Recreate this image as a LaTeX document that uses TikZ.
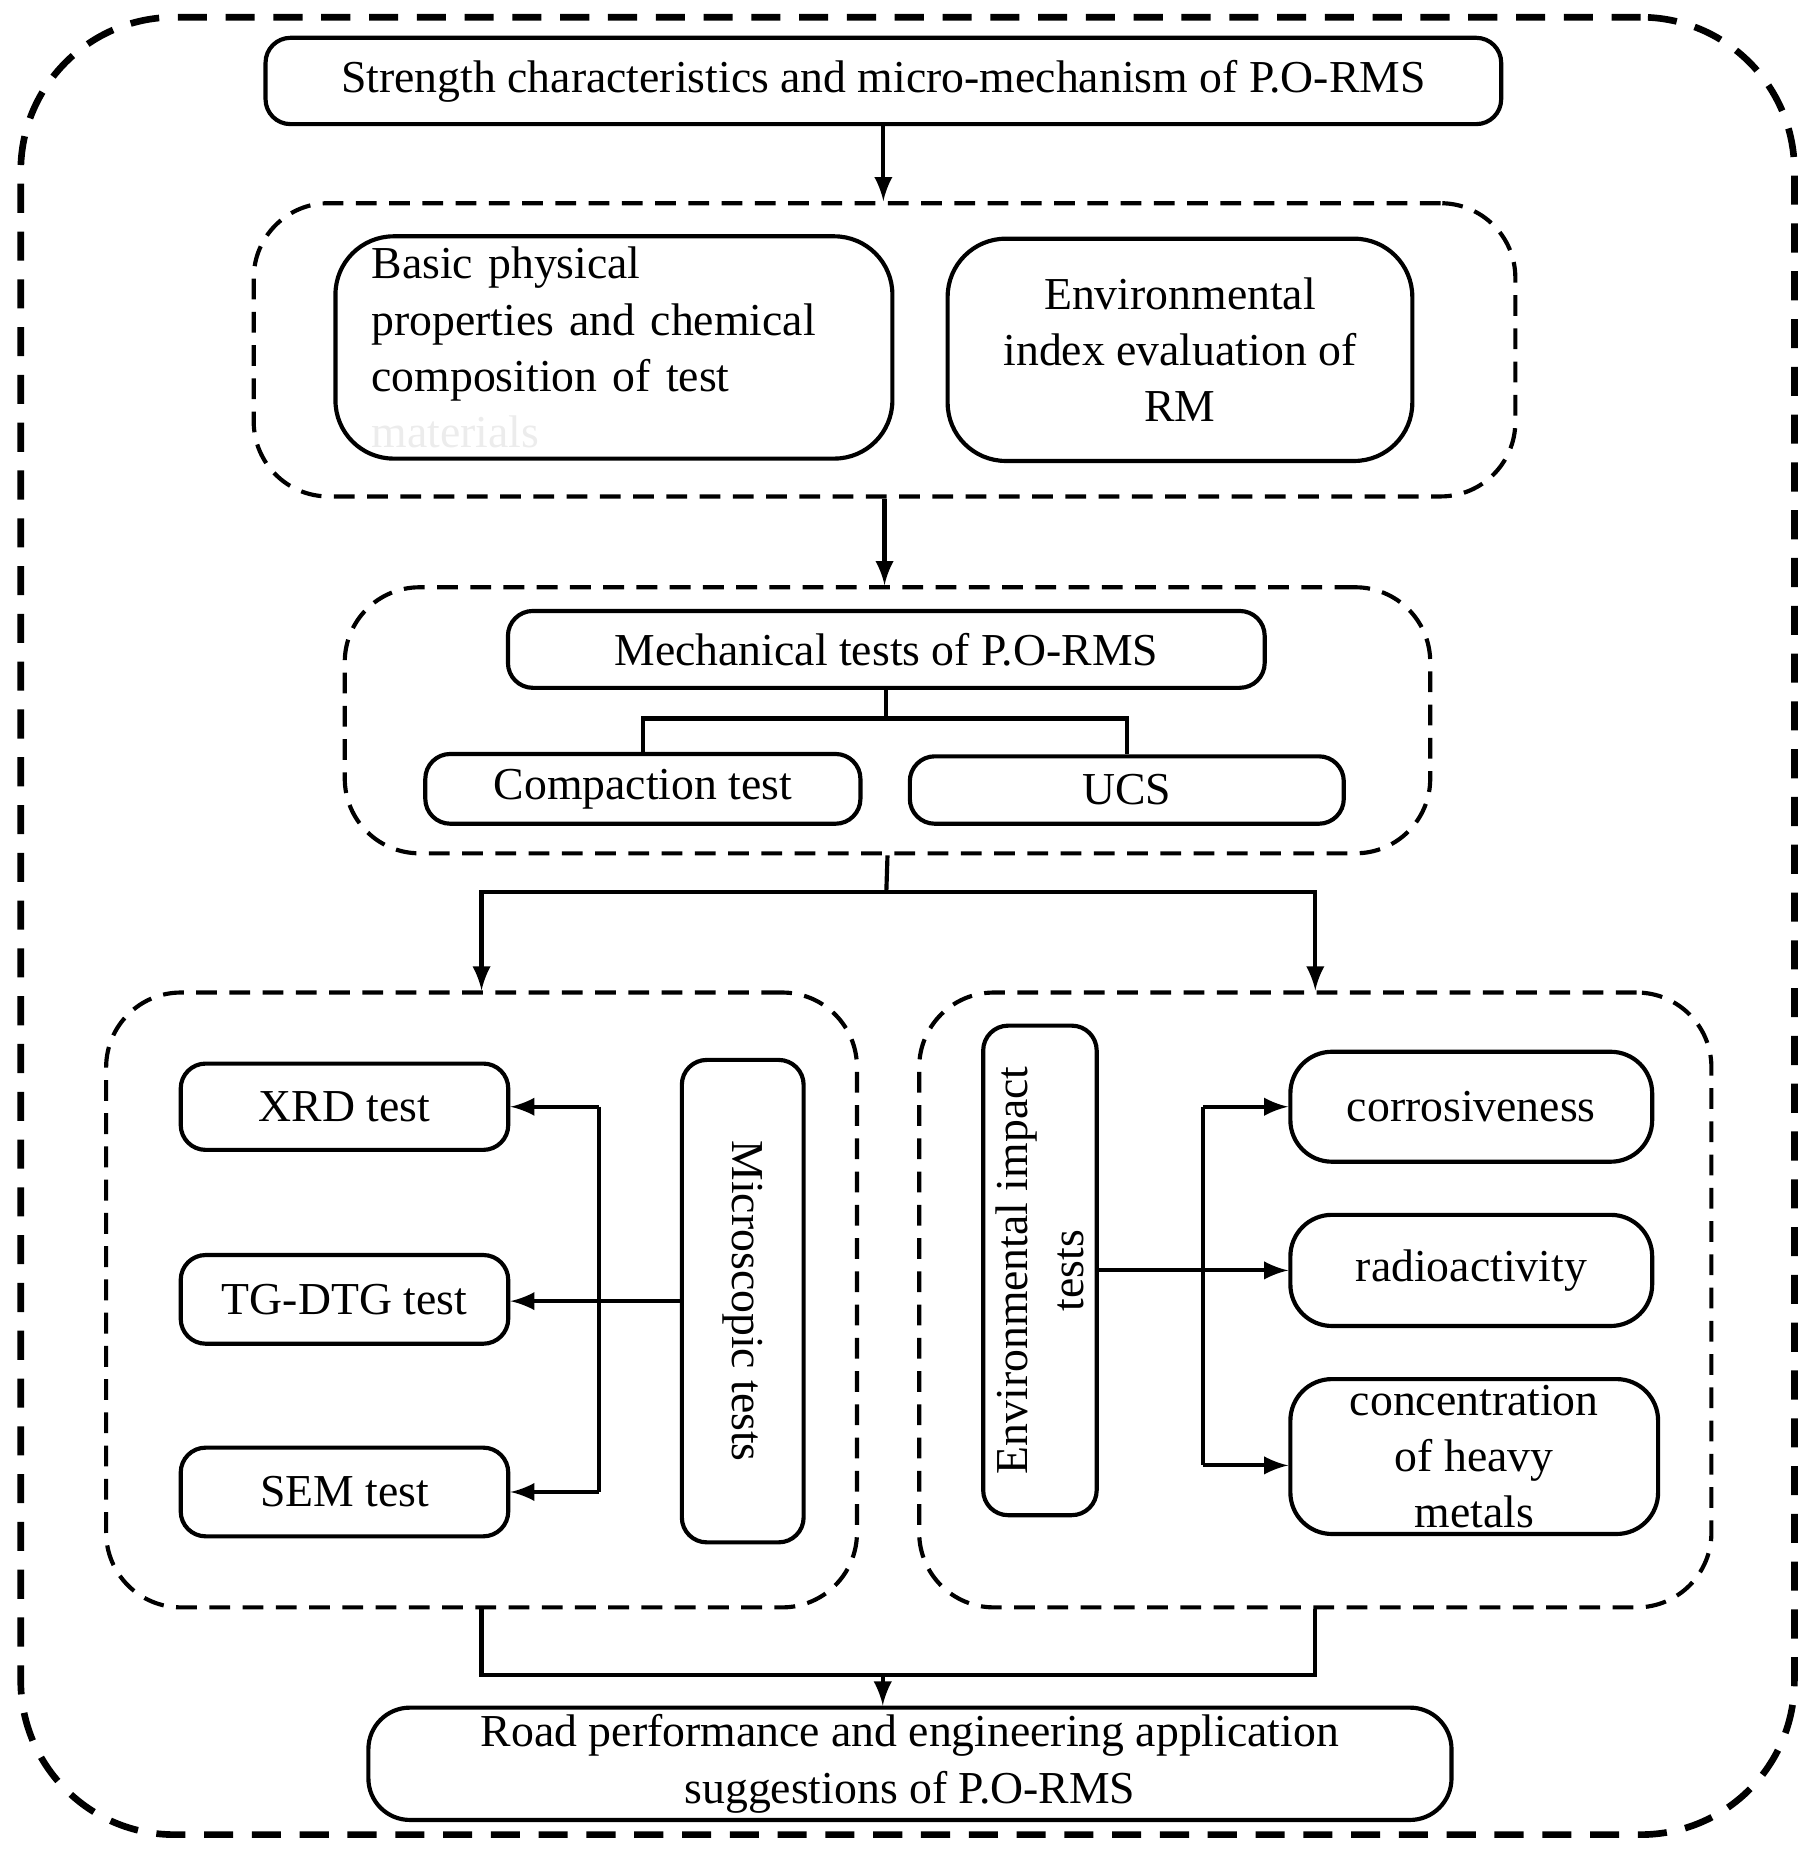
\documentclass[tikz,border=0pt]{standalone}
\usepackage{fontspec}
\setmainfont{Liberation Serif}
\begin{document}
\begin{tikzpicture}[
    x=0.01cm, y=-0.01cm,
    box/.style={draw, rounded corners=6pt, line width=1pt, align=center,
                font=\fontsize{11}{13.5}\selectfont, inner sep=1pt},
    group/.style={draw, dashed, rounded corners=18pt, line width=1pt,
                  dash pattern=on 5pt off 3pt},
    arr/.style={-latex, line width=1pt},
    conn/.style={line width=1pt}
  ]
    \useasboundingbox (0,0) rectangle (1530,1568);
    \node[draw, line width=1.6pt, dash pattern=on 7pt off 4.5pt, rounded corners=1.3cm,
          minimum width=15cm, minimum height=15.37cm] (outer) at (768,783.5) {};

    \node[box, minimum width=10.45cm, minimum height=0.73cm] (title) at (747.5,68.5)
      {Strength characteristics and micro-mechanism of P.O-RMS};

    % first group
    \node[group, minimum width=10.67cm, minimum height=2.48cm] (g1) at (748.5,296) {};
    \node[box, rounded corners=14pt, minimum width=4.71cm, minimum height=1.88cm,
          align=left, text width=4.1cm] (basic) at (519.5,294)
      {Basic physical\\properties and chemical\\composition of test\\\textcolor{gray!15}{materials}};
    \node[box, rounded corners=14pt, minimum width=3.93cm, minimum height=1.88cm] (env) at (998.5,296)
      {Environmental\\index evaluation of\\RM};

    % mechanical group
    \node[group, minimum width=9.18cm, minimum height=2.25cm] (g2) at (751,609.5) {};
    \node[box, minimum width=6.4cm, minimum height=0.65cm] (mech) at (750,549.5)
      {Mechanical tests of P.O-RMS};
    \node[box, minimum width=3.68cm, minimum height=0.59cm] (comp) at (544,667.5) {Compaction test};
    \node[box, minimum width=3.67cm, minimum height=0.57cm] (ucs) at (953.5,668.5) {UCS};

    % micro and environmental groups
    \node[group, minimum width=6.35cm, minimum height=5.2cm] (g3) at (407.5,1100) {};
    \node[group, minimum width=6.7cm, minimum height=5.2cm] (g4) at (1113,1100) {};

    \node[box, minimum width=2.77cm, minimum height=0.73cm] (xrd) at (291.5,936.5) {XRD test};
    \node[box, minimum width=2.77cm, minimum height=0.75cm] (tg) at (291.5,1099.5) {TG-DTG test};
    \node[box, minimum width=2.77cm, minimum height=0.75cm] (sem) at (291.5,1262.5) {SEM test};
    \node[box, rotate=-90, minimum width=4.08cm, minimum height=1.03cm] (micro) at (628.5,1101)
      {Microscopic tests};

    \node[box, rotate=90, minimum width=4.14cm, minimum height=0.96cm] (envimp) at (880,1075)
      {Environmental impact\\tests};
    \node[box, rounded corners=10pt, minimum width=3.06cm, minimum height=0.93cm] (cor) at (1245,936.5) {corrosiveness};
    \node[box, rounded corners=10pt, minimum width=3.06cm, minimum height=0.94cm] (rad) at (1245,1075) {radioactivity};
    \node[box, rounded corners=10pt, minimum width=3.11cm, minimum height=1.31cm] (conc) at (1247.5,1232.5)
      {concentration\\of heavy\\metals};

    \node[box, rounded corners=10pt, minimum width=9.16cm, minimum height=0.95cm] (road) at (770,1492.5)
      {Road performance and engineering application\\suggestions of P.O-RMS};

    % junctions
    \coordinate (mj) at (750,608);
    \coordinate (sj) at (750,755);
    \coordinate (mt) at (507,936.5);
    \coordinate (mb) at (507,1262.5);
    \coordinate (et) at (1018,936.5);
    \coordinate (eb) at (1018,1240);
    \coordinate (bj) at (747,1417);

    \draw[arr] (title.south) -- (title.south |- g1.north);
    \draw[arr] (g1.south) -- (g1.south |- g2.north);
    \draw[conn] (mech.south) -- (mj);
    \draw[conn] (comp.north) |- (mj) -| (ucs.north);
    \draw[conn] (g2.south) -- (sj);
    \draw[arr] (sj) -| (g3.north);
    \draw[arr] (sj) -| (g4.north);

    \draw[arr] (micro.south) -- (micro.south -| tg.east);
    \draw[conn] (mt) -- (mb);
    \draw[arr] (mt) -- (xrd.east);
    \draw[arr] (mb) -- (sem.east);

    \draw[arr] (envimp.south) -- (envimp.south -| rad.west);
    \draw[conn] (et) -- (eb);
    \draw[arr] (et) -- (cor.west);
    \draw[arr] (eb) -- (eb -| conc.west);

    \draw[conn] (g3.south) |- (bj) -| (g4.south);
    \draw[arr] (bj) -- (bj |- road.north);
  \end{tikzpicture}
\end{document}
